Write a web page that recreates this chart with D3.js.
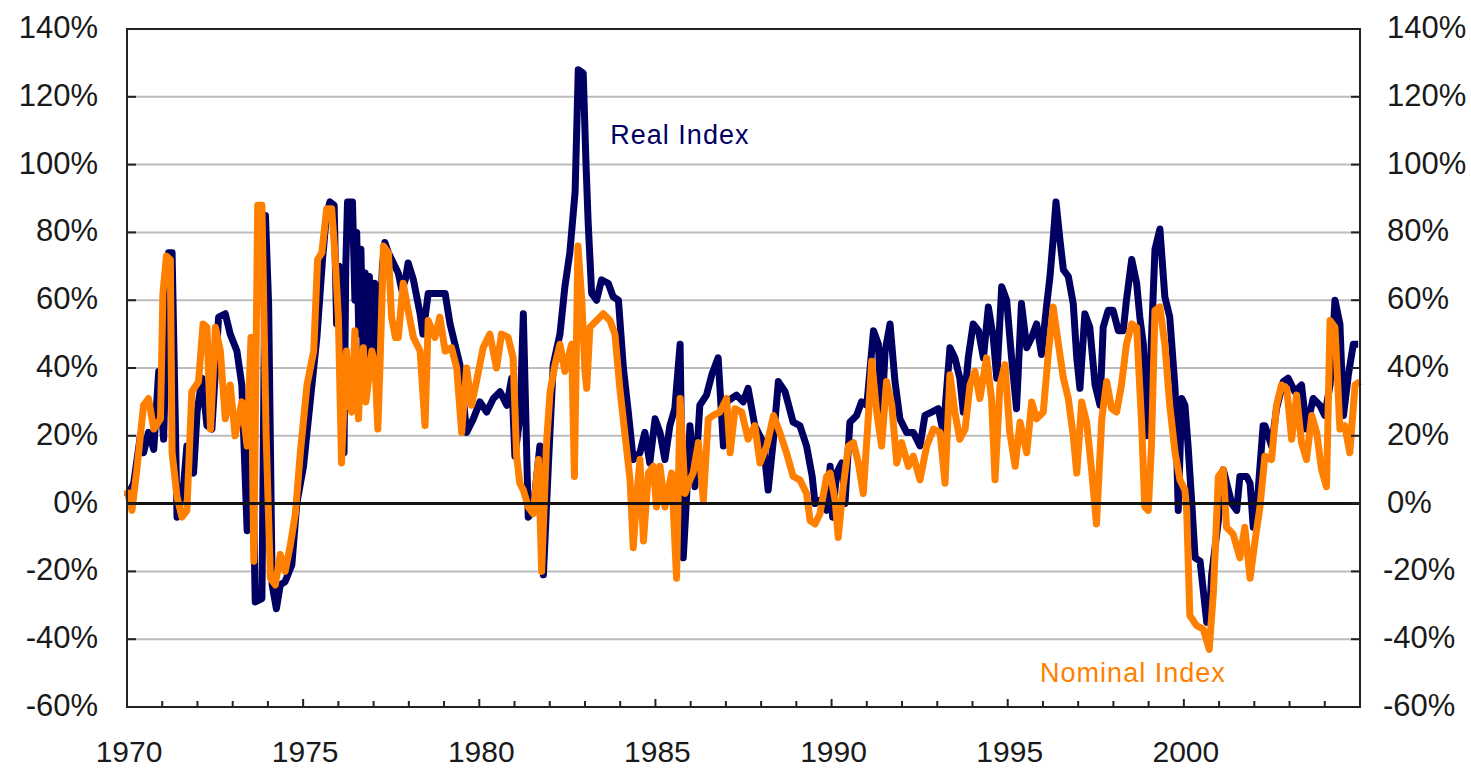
<!DOCTYPE html>
<html>
<head>
<meta charset="utf-8">
<script src="https://cdn.jsdelivr.net/npm/d3@7"></script>
<style>
  body { margin: 0; background: #fff; }
  text { font-family: "Liberation Sans", Arial, sans-serif; }
</style>
</head>
<body>
<div id="chart"></div>
<script>
// year range and tick values
var yearTicks = d3.range(1970, 2006, 1);
var yearLabels = [1970, 1975, 1980, 1985, 1990, 1995, 2000];
var pctTicks = [-60, -40, -20, 0, 20, 40, 60, 80, 100, 120, 140];

// real index, [year, % change]
var realIndex = [
  [1970.00, 2], [1970.19, 6], [1970.38, 20], [1970.47, 15], [1970.61, 21], [1970.76, 16],
  [1970.90, 39], [1971.04, 19], [1971.18, 74], [1971.28, 74], [1971.37, 25], [1971.42, -4],
  [1971.61, 6], [1971.70, 17], [1971.89, 9], [1971.99, 27], [1972.13, 37], [1972.27, 23],
  [1972.41, 22], [1972.60, 55], [1972.79, 56], [1972.93, 50], [1973.12, 45], [1973.26, 35],
  [1973.41, -8], [1973.52, 40], [1973.64, -29], [1973.83, -28], [1973.93, 85], [1974.02, 59],
  [1974.12, -24], [1974.24, -31], [1974.35, -24], [1974.49, -23], [1974.68, -18], [1974.82, 0],
  [1975.01, 11], [1975.20, 30], [1975.39, 49], [1975.55, 72], [1975.66, 85], [1975.76, 89],
  [1975.88, 88], [1975.95, 53], [1976.02, 70], [1976.10, 35], [1976.16, 15], [1976.21, 70],
  [1976.26, 89], [1976.40, 89], [1976.47, 60], [1976.52, 80], [1976.58, 50], [1976.64, 75],
  [1976.70, 45], [1976.76, 68], [1976.82, 44], [1976.88, 67], [1976.95, 44], [1977.03, 65],
  [1977.09, 55], [1977.15, 42], [1977.25, 70], [1977.32, 77], [1977.42, 74], [1977.56, 71],
  [1977.70, 68], [1977.80, 63], [1977.90, 66], [1977.98, 71], [1978.13, 66], [1978.32, 56],
  [1978.40, 50], [1978.55, 62], [1978.74, 62], [1978.88, 62], [1979.03, 62], [1979.17, 53],
  [1979.31, 47], [1979.45, 41], [1979.64, 21], [1979.83, 25], [1980.02, 30], [1980.21, 27],
  [1980.40, 31], [1980.59, 33], [1980.78, 29], [1980.92, 37], [1981.01, 14], [1981.16, 26],
  [1981.25, 56], [1981.39, -4], [1981.53, -2], [1981.72, 17], [1981.82, -21], [1981.96, 11],
  [1982.10, 41], [1982.29, 50], [1982.43, 64], [1982.57, 74], [1982.72, 92], [1982.81, 128],
  [1982.95, 127], [1983.03, 100], [1983.09, 83], [1983.19, 62], [1983.33, 60], [1983.47, 66],
  [1983.66, 65], [1983.80, 61], [1983.95, 60], [1984.09, 40], [1984.23, 27], [1984.37, 13],
  [1984.56, 15], [1984.70, 21], [1984.84, 12], [1984.99, 25], [1985.13, 21], [1985.27, 13],
  [1985.41, 23], [1985.55, 28], [1985.70, 47], [1985.79, -16], [1985.89, 3], [1985.98, 23],
  [1986.12, 5], [1986.26, 29], [1986.45, 32], [1986.60, 38], [1986.78, 43], [1986.93, 17],
  [1987.02, 30], [1987.30, 32], [1987.49, 30], [1987.63, 34], [1987.82, 23], [1988.06, 18],
  [1988.20, 4], [1988.35, 19], [1988.49, 36], [1988.68, 33], [1988.91, 24], [1989.10, 23],
  [1989.29, 17], [1989.45, 8], [1989.53, 0], [1989.67, 1], [1989.86, -2], [1989.96, 11],
  [1990.03, -4], [1990.14, 9], [1990.29, 12], [1990.38, 0], [1990.52, 24], [1990.71, 26],
  [1990.85, 30], [1991.00, 29], [1991.19, 51], [1991.33, 47], [1991.42, 24], [1991.52, 45],
  [1991.66, 53], [1991.80, 36], [1991.94, 25], [1992.13, 21], [1992.32, 21], [1992.51, 17],
  [1992.65, 26], [1992.84, 27], [1993.03, 28], [1993.17, 21], [1993.36, 46], [1993.50, 43],
  [1993.64, 37], [1993.74, 27], [1993.88, 43], [1994.02, 53], [1994.17, 51], [1994.31, 43],
  [1994.45, 58], [1994.59, 49], [1994.69, 37], [1994.83, 64], [1994.97, 60], [1995.11, 43],
  [1995.25, 28], [1995.39, 59], [1995.54, 46], [1995.68, 49], [1995.82, 53], [1995.96, 44],
  [1996.10, 58], [1996.20, 67], [1996.29, 78], [1996.37, 89], [1996.48, 78], [1996.58, 69],
  [1996.72, 67], [1996.86, 59], [1996.96, 43], [1997.05, 34], [1997.19, 56], [1997.33, 52],
  [1997.48, 35], [1997.62, 29], [1997.71, 52], [1997.85, 57], [1997.99, 57], [1998.14, 51],
  [1998.28, 51], [1998.37, 60], [1998.52, 72], [1998.66, 65], [1998.75, 55], [1998.85, 47],
  [1998.94, 20], [1999.04, 38], [1999.18, 75], [1999.32, 81], [1999.46, 61], [1999.60, 55],
  [1999.75, 34], [1999.84, -2], [1999.94, 31], [2000.03, 29], [2000.12, 17], [2000.22, 1],
  [2000.32, -16], [2000.46, -17], [2000.65, -35], [2000.72, -35], [2000.79, -21], [2000.98, -5],
  [2001.12, 10], [2001.36, 0], [2001.50, -2], [2001.59, 8], [2001.78, 8], [2001.88, 6],
  [2001.97, -7], [2002.11, 4], [2002.25, 23], [2002.30, 23], [2002.49, 17], [2002.63, 28],
  [2002.82, 36], [2002.96, 37], [2003.15, 33], [2003.34, 35], [2003.48, 22], [2003.67, 31],
  [2003.86, 29], [2004.00, 26], [2004.15, 35], [2004.29, 60], [2004.43, 53], [2004.53, 26],
  [2004.67, 38], [2004.81, 47], [2004.95, 47]
];

// nominal index, [year, % change]
var nominalIndex = [
  [1970.00, 4], [1970.14, -2], [1970.28, 10], [1970.47, 29], [1970.61, 31], [1970.76, 22],
  [1970.95, 25], [1971.02, 62], [1971.12, 73], [1971.23, 72], [1971.28, 15], [1971.42, 2],
  [1971.56, -4], [1971.70, -2], [1971.84, 33], [1972.03, 36], [1972.16, 53], [1972.27, 52],
  [1972.37, 22], [1972.51, 52], [1972.65, 45], [1972.79, 25], [1972.93, 35], [1973.07, 20],
  [1973.26, 30], [1973.41, 17], [1973.52, 49], [1973.60, -17], [1973.71, 88], [1973.83, 88],
  [1973.95, 20], [1974.07, -22], [1974.21, -24], [1974.35, -15], [1974.49, -20], [1974.64, -12],
  [1974.78, -3], [1974.92, 15], [1975.11, 35], [1975.30, 45], [1975.41, 72], [1975.53, 74],
  [1975.67, 87], [1975.81, 87], [1975.90, 74], [1976.00, 55], [1976.09, 12], [1976.16, 30],
  [1976.23, 45], [1976.30, 30], [1976.38, 27], [1976.47, 51], [1976.57, 25], [1976.64, 40],
  [1976.71, 46], [1976.78, 30], [1976.85, 36], [1976.95, 45], [1977.04, 41], [1977.12, 22],
  [1977.18, 40], [1977.28, 76], [1977.42, 74], [1977.51, 55], [1977.62, 49], [1977.70, 49],
  [1977.84, 65], [1977.98, 57], [1978.13, 49], [1978.32, 45], [1978.46, 23], [1978.55, 54],
  [1978.74, 49], [1978.88, 55], [1979.03, 45], [1979.21, 46], [1979.36, 40], [1979.50, 21],
  [1979.64, 40], [1979.78, 29], [1979.92, 36], [1980.11, 46], [1980.30, 50], [1980.49, 40],
  [1980.63, 50], [1980.82, 49], [1980.96, 43], [1981.06, 14], [1981.15, 6], [1981.25, 4],
  [1981.39, -1], [1981.53, -3], [1981.68, 13], [1981.77, -20], [1981.91, 18], [1982.01, 33],
  [1982.15, 41], [1982.29, 47], [1982.43, 39], [1982.62, 47], [1982.70, 8], [1982.80, 76],
  [1982.91, 60], [1983.00, 39], [1983.05, 34], [1983.14, 52], [1983.33, 54], [1983.52, 56],
  [1983.71, 54], [1983.85, 50], [1983.99, 34], [1984.14, 20], [1984.28, 7], [1984.37, -13],
  [1984.47, 2], [1984.56, 13], [1984.66, -11], [1984.80, 9], [1984.94, 11], [1985.03, -1],
  [1985.13, 11], [1985.27, -1], [1985.46, 9], [1985.60, -22], [1985.70, 31], [1985.84, 3],
  [1985.98, 7], [1986.07, 9], [1986.22, 18], [1986.36, 1], [1986.50, 25], [1986.64, 26],
  [1986.83, 27], [1987.02, 31], [1987.12, 15], [1987.26, 28], [1987.45, 27], [1987.63, 19],
  [1987.82, 23], [1987.97, 12], [1988.16, 17], [1988.35, 26], [1988.53, 21], [1988.72, 15],
  [1988.91, 8], [1989.10, 7], [1989.29, 3], [1989.39, -5], [1989.53, -6], [1989.67, -3],
  [1989.86, 8], [1989.96, 9], [1990.10, 1], [1990.19, -10], [1990.33, 5], [1990.48, 17],
  [1990.62, 18], [1990.76, 12], [1990.90, 3], [1991.04, 25], [1991.14, 42], [1991.28, 27],
  [1991.42, 17], [1991.56, 36], [1991.71, 29], [1991.85, 12], [1991.99, 18], [1992.18, 11],
  [1992.32, 14], [1992.51, 7], [1992.70, 17], [1992.89, 22], [1993.08, 21], [1993.22, 6],
  [1993.36, 38], [1993.50, 27], [1993.64, 19], [1993.79, 22], [1993.93, 35], [1994.07, 39],
  [1994.21, 31], [1994.40, 43], [1994.54, 31], [1994.64, 7], [1994.78, 35], [1994.92, 41],
  [1995.06, 21], [1995.21, 11], [1995.35, 24], [1995.54, 15], [1995.68, 30], [1995.82, 25],
  [1996.01, 27], [1996.15, 44], [1996.29, 58], [1996.44, 47], [1996.58, 37], [1996.72, 31],
  [1996.86, 20], [1996.96, 9], [1997.10, 30], [1997.24, 24], [1997.38, 10], [1997.52, -6],
  [1997.67, 25], [1997.81, 36], [1997.95, 28], [1998.09, 27], [1998.23, 35], [1998.37, 47],
  [1998.52, 53], [1998.66, 52], [1998.80, 24], [1998.89, -1], [1998.99, -2], [1999.08, 17],
  [1999.18, 57], [1999.32, 58], [1999.46, 47], [1999.60, 29], [1999.75, 15], [1999.89, 7],
  [2000.03, 4], [2000.08, -2], [2000.17, -33], [2000.36, -36], [2000.55, -37], [2000.72, -43],
  [2000.84, -26], [2000.98, 8], [2001.12, 10], [2001.21, -7], [2001.40, -9], [2001.59, -16],
  [2001.73, -7], [2001.88, -22], [2002.02, -11], [2002.16, -1], [2002.30, 14], [2002.49, 13],
  [2002.63, 29], [2002.77, 35], [2002.92, 34], [2003.06, 19], [2003.20, 32], [2003.34, 18],
  [2003.48, 13], [2003.63, 26], [2003.77, 21], [2003.91, 10], [2004.05, 5], [2004.15, 54],
  [2004.29, 52], [2004.43, 22], [2004.57, 23], [2004.71, 15], [2004.86, 35], [2005.00, 36]
];

var width = 1471, height = 768;
var plotLeft = 127, plotRight = 1360, plotTop = 29, plotBottom = 707;

var x = d3.scaleLinear().domain([1970, 2005]).range([plotLeft, plotRight]);
var y = d3.scaleLinear().domain([-60, 140]).range([plotBottom, plotTop]);

var svg = d3.select("#chart")
            .append("svg")
            .attr("width", width)
            .attr("height", height);

// horizontal gridlines
svg.selectAll(".grid")
   .data(pctTicks.filter(function(d){return d > -60 && d < 140 && d != 0}))
   .enter()
   .append("line")
   .attr("x1", plotLeft).attr("x2", plotRight)
   .attr("y1", function(d){return y(d)})
   .attr("y2", function(d){return y(d)})
   .attr("stroke", "#bdbdbd")
   .attr("stroke-width", 2);

// series lines
var line = d3.line()
             .x(function(d){return x(d[0])})
             .y(function(d){return y(d[1])});

svg.append("path")
   .datum(realIndex)
   .attr("d", line)
   .attr("fill", "none")
   .attr("stroke", "#000063")
   .attr("stroke-width", 7)
   .attr("stroke-linejoin", "round");

svg.append("path")
   .datum(nominalIndex)
   .attr("d", line)
   .attr("fill", "none")
   .attr("stroke", "#ff7f00")
   .attr("stroke-width", 7)
   .attr("stroke-linejoin", "round");

// zero line
svg.append("line")
   .attr("x1", plotLeft).attr("x2", plotRight)
   .attr("y1", y(0)).attr("y2", y(0))
   .attr("stroke", "#111")
   .attr("stroke-width", 3);

// frame
svg.append("rect")
   .attr("x", plotLeft).attr("y", plotTop)
   .attr("width", plotRight - plotLeft).attr("height", plotBottom - plotTop)
   .attr("fill", "none")
   .attr("stroke", "#222")
   .attr("stroke-width", 2);

// y ticks, both sides, pointing inward
svg.selectAll(".ytickL")
   .data(pctTicks)
   .enter()
   .append("line")
   .attr("x1", plotLeft).attr("x2", plotLeft + 9)
   .attr("y1", function(d){return y(d)})
   .attr("y2", function(d){return y(d)})
   .attr("stroke", "#222").attr("stroke-width", 2);

svg.selectAll(".ytickR")
   .data(pctTicks)
   .enter()
   .append("line")
   .attr("x1", plotRight - 9).attr("x2", plotRight)
   .attr("y1", function(d){return y(d)})
   .attr("y2", function(d){return y(d)})
   .attr("stroke", "#222").attr("stroke-width", 2);

// x ticks pointing up
svg.selectAll(".xtick")
   .data(yearTicks)
   .enter()
   .append("line")
   .attr("x1", function(d){return x(d)})
   .attr("x2", function(d){return x(d)})
   .attr("y1", plotBottom)
   .attr("y2", function(d){return plotBottom - (d % 5 == 0 ? 8 : 6)})
   .attr("stroke", "#222").attr("stroke-width", 2);

// y labels
svg.selectAll(".ylabL")
   .data(pctTicks)
   .enter()
   .append("text")
   .attr("x", 98)
   .attr("y", function(d){return y(d) + 9})
   .attr("text-anchor", "end")
   .attr("font-size", 31)
   .attr("fill", "#1a1a1a")
   .text(function(d){return d + "%"});

svg.selectAll(".ylabR")
   .data(pctTicks)
   .enter()
   .append("text")
   .attr("x", function(d){return d < 0 ? 1383 : 1387})
   .attr("y", function(d){return y(d) + 9})
   .attr("text-anchor", "start")
   .attr("font-size", 31)
   .attr("fill", "#1a1a1a")
   .text(function(d){return d + "%"});

// x labels
svg.selectAll(".xlab")
   .data(yearLabels)
   .enter()
   .append("text")
   .attr("x", function(d){return x(d) + 2})
   .attr("y", 762)
   .attr("text-anchor", "middle")
   .attr("font-size", 30)
   .attr("fill", "#1a1a1a")
   .text(function(d){return d});

// series labels
svg.append("text")
   .attr("x", x(1983.72))
   .attr("y", y(106))
   .attr("font-size", 27)
   .attr("letter-spacing", 1)
   .attr("fill", "#000063")
   .text("Real Index");

svg.append("text")
   .attr("x", x(1995.92))
   .attr("y", y(-52.6))
   .attr("font-size", 27)
   .attr("letter-spacing", 1)
   .attr("fill", "#ff7f00")
   .text("Nominal Index");
</script>
</body>
</html>
